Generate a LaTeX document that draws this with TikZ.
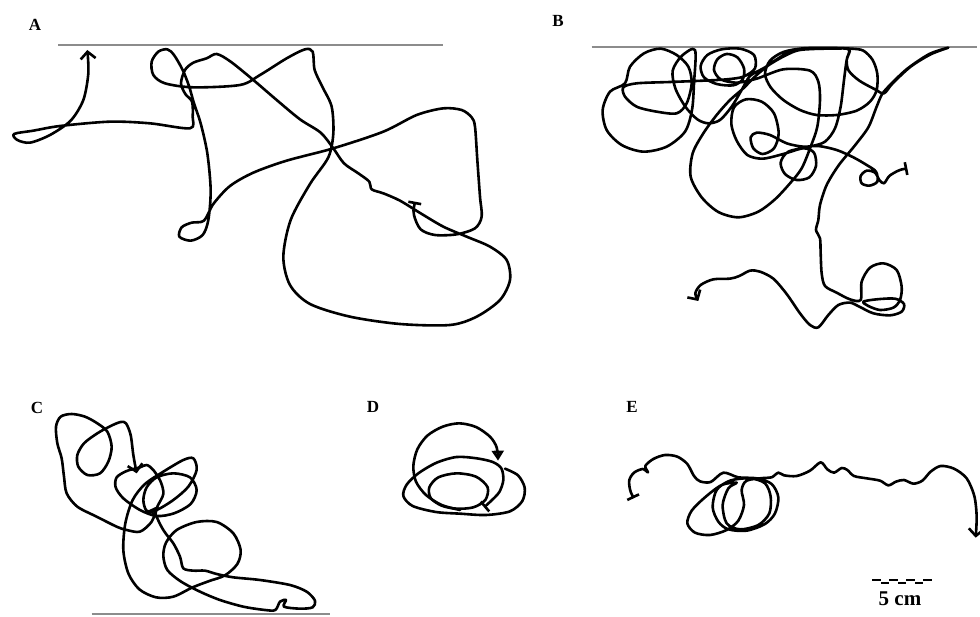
\documentclass[tikz,border=0pt]{standalone}
\usepackage{fontspec}
\setmainfont{Liberation Serif}
\usetikzlibrary{arrows.meta}

\tikzset{
  track/.style={line width=2.6pt, black, line join=round, line cap=round},
  wall/.style={line width=2.2pt, black!45},
  panel/.style={inner sep=0pt, font=\fontsize{17}{17}\selectfont\bfseries},
  startend/.style={{Bar[width=13pt]}-{Straight Barb[length=7pt,width=15pt]}},
}

\begin{document}
\begin{tikzpicture}[x=1pt, y=-1pt]
\useasboundingbox (0,0) rectangle (980,617);

\node (labA) [panel] at (35,25) {A};
\node (labB) [panel] at (558,21) {B};
\node (labC) [panel] at (37,408) {C};
\node (labD) [panel] at (373,407) {D};
\node (labE) [panel] at (632,407) {E};

% panel A
\begin{scope}[scale=1/3]
\draw[wall] (175,135) -- (1330,135);
\draw[track, startend] plot[smooth] coordinates {
  (1245,605) (1242,645) (1262,688) (1305,705) (1370,703) (1425,685) (1445,650)
  (1440,590) (1432,480) (1425,380) (1415,352) (1385,330) (1330,325) (1250,345)
  (1150,395) (1000,445) (860,482) (760,518) (690,558) (640,612) (612,662)
  (575,668) (545,682) (538,710) (572,722) (608,705) (625,660) (632,570)
  (622,460) (602,370) (582,310) (567,258) (548,210) (522,165) (502,148)
  (475,155) (455,185) (460,225) (495,250) (580,262) (720,255) (780,225)
  (860,175) (915,148) (938,155) (944,210) (968,262) (995,320) (1000,400)
  (985,472) (930,552) (872,660) (850,770) (870,855) (930,912) (1050,950)
  (1200,972) (1350,975) (1430,950) (1500,900) (1530,840) (1520,780)
  (1470,740) (1400,710) (1330,680) (1262,640) (1200,602) (1150,580)
  (1115,568) (1108,545) (1075,520) (1032,490) (1000,445) (962,398) (900,358)
  (830,300) (760,240) (692,185) (650,162) (620,175) (580,188) (555,210)
  (543,250) (556,282) (576,305) (578,350) (570,385) (450,370) (330,365)
  (180,378) (100,392) (42,402) (52,420) (90,428) (150,405) (212,362)
  (250,300) (265,220) (262,150)};
\end{scope}

% panel B
\begin{scope}[shift={(570,0)}, scale=1/3]
\draw[wall] (65,140) -- (1220,140);
\draw[track, startend] plot[smooth] coordinates {
  (1012,505) (985,512) (958,528) (942,550) (928,540) (915,518) (890,512)
  (872,528) (875,550) (898,557) (922,545) (918,515) (890,495) (850,472)
  (800,450) (745,438) (700,440) (650,430) (600,405) (560,398) (542,412)
  (550,445) (578,462) (612,445) (626,400) (612,340) (575,305) (528,298)
  (492,322) (484,372) (500,422) (532,465) (578,476) (640,462) (700,445)
  (732,458) (738,498) (718,532) (680,540) (645,522) (632,488) (655,455)
  (720,440) (765,425) (795,385) (812,320) (822,240) (830,180) (838,148)
  (790,146) (730,147) (680,152) (630,175) (580,205) (540,228) (515,270)
  (485,320) (450,360) (415,370) (382,358) (346,320) (316,265) (308,212)
  (335,168) (375,150) (372,250) (366,330) (345,395) (290,440) (220,455)
  (155,435) (110,390) (98,330) (120,275) (165,250) (180,200) (222,160)
  (272,146) (320,165) (355,200) (365,250) (350,310) (320,340) (260,335)
  (200,320) (165,290) (160,262) (200,250) (300,246) (400,242) (470,238)
  (520,230) (555,205) (552,165) (510,146) (455,148) (412,165) (392,198)
  (402,232) (440,252) (490,256) (518,238) (522,205) (502,172) (470,162)
  (442,178) (432,210) (452,238) (500,248) (560,236) (640,208) (720,212)
  (745,245) (750,300) (742,380) (722,440) (695,505) (660,550) (615,598)
  (565,635) (505,652) (445,636) (395,592) (362,530) (368,460) (400,400)
  (440,345) (480,300) (520,265) (560,225) (610,185) (660,156) (720,146)
  (790,145) (845,146) (880,152) (908,180) (922,222) (920,270) (900,305)
  (860,332) (800,345) (740,345) (690,330) (640,300) (602,262) (585,222)
  (600,182) (640,156) (700,145) (780,144) (836,148) (830,180) (836,212)
  (868,242) (915,268) (942,280) (968,250) (1022,200) (1082,163) (1135,143)
  (1078,162) (1012,206) (962,253) (936,283) (918,325) (895,382) (855,436)
  (806,496) (770,555) (750,615) (745,660) (738,690) (750,715) (752,760)
  (755,820) (765,858) (800,878) (840,898) (872,900) (875,845) (900,803)
  (940,790) (980,810) (995,860) (990,900) (970,923) (930,930) (895,918)
  (880,905) (920,898) (975,896) (1002,912) (995,935) (960,946) (910,940)
  (868,920) (840,908) (805,915) (775,945) (745,982) (720,975) (690,940)
  (650,882) (610,836) (570,815) (540,812) (508,828) (480,836) (430,838)
  (392,855) (376,880) (385,903)};
\end{scope}

% panel C
\begin{scope}[shift={(0,390)}, scale=1/3]
\draw[wall] (275,673) -- (990,673);
\draw[track, {Triangle[open,reversed,length=9pt,width=12pt]}-{Straight Barb[length=7pt,width=15pt]}] plot[smooth] coordinates {
  (458,355) (490,420) (520,460) (540,500) (550,535) (580,542) (615,542)
  (650,552) (700,562) (780,570) (870,585) (920,605) (945,632) (938,652)
  (900,656) (852,650) (858,630) (840,635) (826,660) (795,660) (730,650)
  (660,630) (600,605) (542,574) (502,540) (490,498) (498,458) (530,420)
  (590,396) (650,396) (700,430) (722,480) (712,522) (675,556) (628,573)
  (578,592) (520,620) (468,622) (418,598) (385,550) (370,480) (376,400)
  (398,330) (435,282) (490,245) (550,210) (580,205) (590,240) (565,290)
  (520,330) (470,360) (440,362) (430,330) (440,292) (470,262) (520,250)
  (570,262) (590,300) (572,342) (522,370) (470,378) (420,360) (370,325)
  (347,292) (350,262) (380,243) (420,232) (440,225) (460,240) (482,275)
  (490,312) (472,350) (455,395) (420,425) (380,420) (350,410) (290,380)
  (232,350) (200,310) (192,260) (185,205) (172,160) (168,110) (182,80)
  (215,72) (255,80) (292,100) (322,125) (335,170) (325,215) (300,250)
  (262,255) (235,230) (232,195) (252,160) (292,130) (332,108) (362,96)
  (378,100) (392,135) (400,195) (410,250)};
\end{scope}

% panel D
\begin{scope}[shift={(360,390)}, scale=1/3]
\draw[track, {Bar[width=13pt]}-] plot[smooth] coordinates {
  (372,352) (392,334) (418,306) (430,270) (424,235) (398,216) (350,205)
  (290,201) (230,218) (175,250) (140,284) (130,318) (158,348) (228,366)
  (300,371) (378,375) (450,364) (487,333) (494,293) (474,256) (435,236)};
\draw[track] plot[smooth cycle] coordinates {
  (208,292) (235,262) (290,250) (348,260) (383,292) (376,330) (340,352)
  (290,356) (245,347) (212,324)};
\draw[track, -{Triangle[open,length=10pt,width=12pt]}] plot[smooth] coordinates {
  (300,360) (245,345) (198,315) (168,275) (160,228) (172,178) (202,137)
  (248,110) (298,100) (348,111) (390,140) (410,172) (414,212)};
\end{scope}

% panel E
\begin{scope}[shift={(590,390)}, scale=1/3]
\draw[track, startend] plot[smooth] coordinates {
  (131,325) (120,298) (118,270) (132,248) (158,237) (174,247) (166,228)
  (190,207) (225,195) (262,200) (292,222) (312,258) (330,274) (362,276)
  (400,248) (445,262) (500,265) (545,282) (565,322) (555,370) (525,402)
  (470,422) (415,418) (385,395) (368,352) (380,300) (420,272) (480,265)
  (525,280) (542,320) (538,370) (505,405) (450,418) (410,400) (398,345)
  (415,295) (440,278) (395,285) (345,322) (305,362) (292,400) (315,428)
  (360,435) (410,420) (445,392) (462,345) (455,300) (470,272) (520,264)
  (545,262) (565,248) (582,256) (620,258) (660,242) (692,217) (712,238)
  (732,248) (755,234) (772,240) (792,258) (830,265) (870,272) (895,286)
  (918,275) (942,270) (970,281) (997,272) (1022,245) (1052,228) (1092,236)
  (1130,265) (1153,318) (1160,380) (1157,443)};
\end{scope}

% scale bar
\coordinate (barL) at (872,580);
\coordinate (barR) at (932,580);
\draw[line width=1.8pt, dash pattern=on 9pt off 8pt] (barL) -- (barR);
\draw[line width=1.8pt, dash pattern=on 8pt off 9pt] ([shift={(9,3)}]barL) -- ([shift={(-9,3)}]barR);
\node (scaletxt) [inner sep=0pt, font=\fontsize{21}{21}\selectfont\bfseries] at (900,599) {5 cm};
\end{tikzpicture}
\end{document}
